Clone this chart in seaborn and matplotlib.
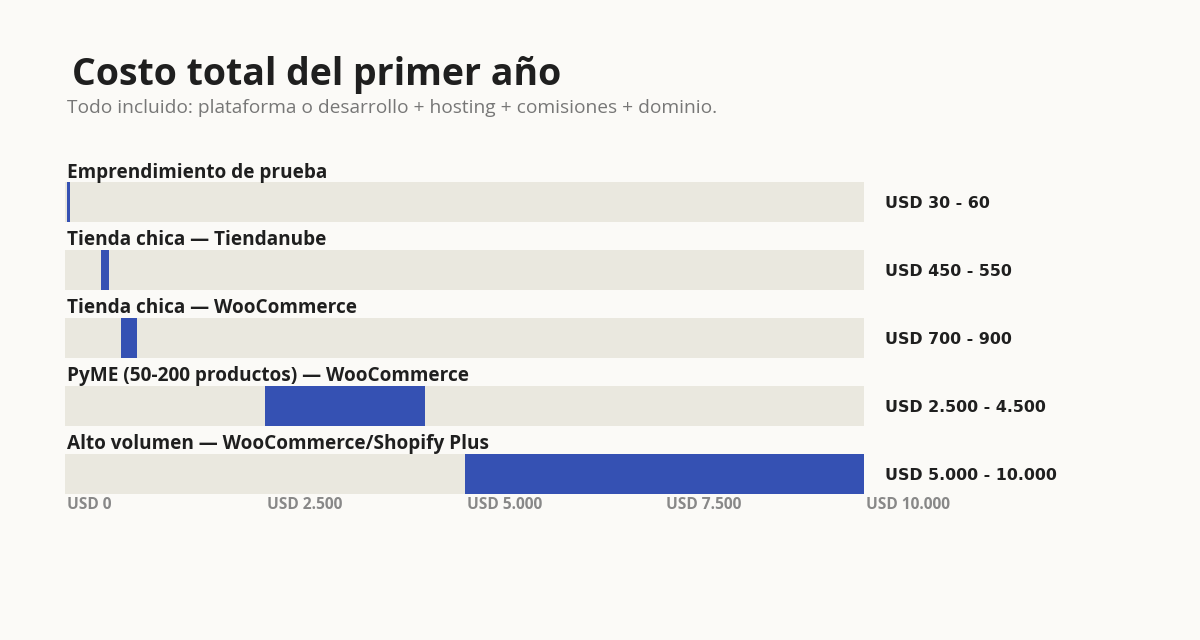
import matplotlib
matplotlib.use("Agg")
import matplotlib.pyplot as plt
import matplotlib.transforms as mtransforms
import seaborn as sns
import pandas as pd

categories = [
    "Emprendimiento de prueba",
    "Tienda chica — Tiendanube",
    "Tienda chica — WooCommerce",
    "PyME (50-200 productos) — WooCommerce",
    "Alto volumen — WooCommerce/Shopify Plus",
]
low_values = [30, 450, 700, 2500, 5000]
high_values = [60, 550, 900, 4500, 10000]
value_labels = ["USD 30 - 60", "USD 450 - 550", "USD 700 - 900",
                "USD 2.500 - 4.500", "USD 5.000 - 10.000"]
tick_values = [0, 2500, 5000, 7500, 10000]
tick_labels = ["USD 0", "USD 2.500", "USD 5.000", "USD 7.500", "USD 10.000"]
axis_max = 10000

BG = "#FBFAF7"
TRACK = "#EAE8DF"
BAR = "#3551B3"
DARK = "#1F1F1F"

sns.set_theme(style="white")
plt.rcParams["font.family"] = ["Open Sans", "DejaVu Sans"]

df = pd.DataFrame({
    "cat": categories,
    "low": low_values,
    "high": high_values,
    "track": [axis_max] * len(categories),
})

W, H = 1200, 640
fig = plt.figure(figsize=(12, 6.4), dpi=100, facecolor=BG)
# axes spans pixel x 65..864, y 150..494
ax = fig.add_axes([65 / W, (H - 494) / H, (864 - 65) / W, (494 - 150) / H])
ax.set_facecolor(BG)

bar_h = 40 / 68
sns.barplot(data=df, x="track", y="cat", orient="y", color=TRACK,
            width=bar_h, linewidth=0, saturation=1, ax=ax)
sns.barplot(data=df, x="high", y="cat", orient="y", color=BAR,
            width=bar_h, linewidth=0, saturation=1, ax=ax)
sns.barplot(data=df, x="low", y="cat", orient="y", color=TRACK,
            width=bar_h, linewidth=0, saturation=1, ax=ax)

ax.set_xlim(0, axis_max)
ax.set_ylim(4 + 20 / 68, (150 - 202.5) / 68)

for i, (cat, lab) in enumerate(zip(categories, value_labels)):
    ax.text(25, i - 0.44, cat, ha="left", va="center", fontsize=13.7,
            fontweight="bold", color=DARK)
    ax.text(axis_max + 260, i + 0.02, lab, ha="left", va="center",
            fontsize=11.4, fontweight="bold", color=DARK,
            family=["DejaVu Sans"])

ax.set_xticks(tick_values)
ax.set_xticklabels(tick_labels, ha="left", fontsize=11.2, fontweight="bold",
                   color="#888888")
ax.tick_params(axis="x", length=0, pad=2)
offset = mtransforms.ScaledTranslation(2 / 100, 0, fig.dpi_scale_trans)
for t in ax.get_xticklabels():
    t.set_transform(t.get_transform() + offset)
ax.set_yticks([])
ax.set_xlabel("")
ax.set_ylabel("")
for s in ax.spines.values():
    s.set_visible(False)

fig.text(72 / W, 1 - 75 / H, "Costo total del primer año", ha="left",
         va="center", fontsize=27, fontweight="bold", color=DARK)
fig.text(67 / W, 1 - 108 / H,
         "Todo incluido: plataforma o desarrollo + hosting + comisiones + dominio.",
         ha="left", va="center", fontsize=13.8, color="#777777")

fig.savefig("out.png", dpi=100, facecolor=BG)
